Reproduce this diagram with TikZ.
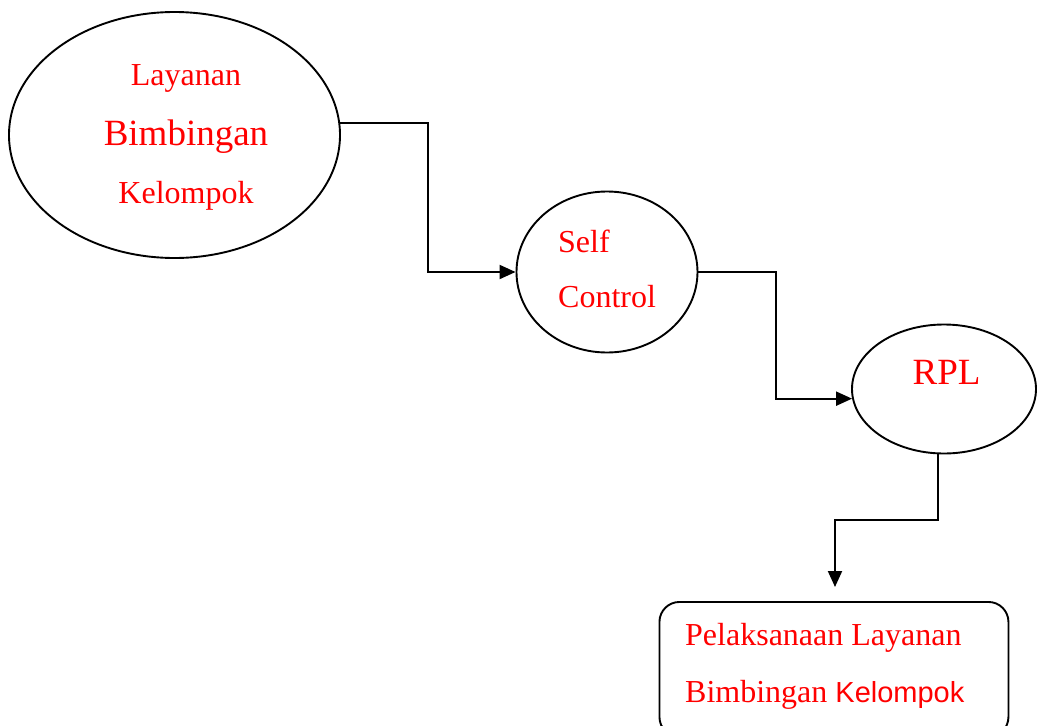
\documentclass[tikz,border=0pt]{standalone}
\usepackage{fontspec}
\setmainfont{Liberation Serif}
\newfontfamily\arialfont{Liberation Sans}
\usetikzlibrary{shapes.geometric,arrows.meta}
\definecolor{txtred}{RGB}{255,0,0}
\tikzset{
  bubble/.style={draw=black, line width=1.9pt, ellipse, inner sep=0pt},
  lbl/.style={text=txtred, inner sep=0pt, anchor=base, font=\fontsize{32}{38}\selectfont},
  biglbl/.style={lbl, font=\fontsize{37}{44}\selectfont},
  conn/.style={draw=black, line width=2pt},
  arr/.style={conn, -{Triangle[length=16pt,width=14pt]}},
  outbox/.style={draw=black, line width=1.9pt, rounded corners=20pt, inner sep=0pt}
}
\begin{document}
\begin{tikzpicture}[x=1pt,y=-1pt]
\useasboundingbox (0,0) rectangle (1037,726);
\begin{scope}
\clip (0,0) rectangle (1037,726);
% shapes
\node[bubble, minimum width=331pt, minimum height=246pt] (e1) at (174.5,135) {};
\node[bubble, minimum width=181pt, minimum height=161pt] (e2) at (607,272) {};
\node[bubble, minimum width=184pt, minimum height=129pt] (e3) at (944,389) {};
\node[outbox, minimum width=349pt, minimum height=135pt, anchor=north west] (box) at (658.5,601) {};
\end{scope}
% texts
\node[lbl] (t1) at (186,85) {Layanan};
\node[biglbl] (t2) at (186,145) {Bimbingan};
\node[lbl] (t3) at (186,203) {Kelompok};
\node[lbl, anchor=base west] (t4) at (558,252) {Self};
\node[lbl, anchor=base west] (t5) at (558,307) {Control};
\node[biglbl] (t6) at (946.5,384) {RPL};
\node[lbl, anchor=base west] (t7) at (685,645) {Pelaksanaan Layanan};
\node[lbl, anchor=base west] (t8) at (685,702) {Bimbingan {\arialfont\fontsize{29}{35}\selectfont Kelompok}};
% connectors
\coordinate (tip) at (835,587);
\draw[arr] (e1.4.5) -- ++(88,0) |- (e2.west);
\draw[arr] (e2.east) -- ++(78,0) |- (e3.186);
\draw[arr] (e3.265) -- ++(0,66) -| (tip);
\end{tikzpicture}
\end{document}
